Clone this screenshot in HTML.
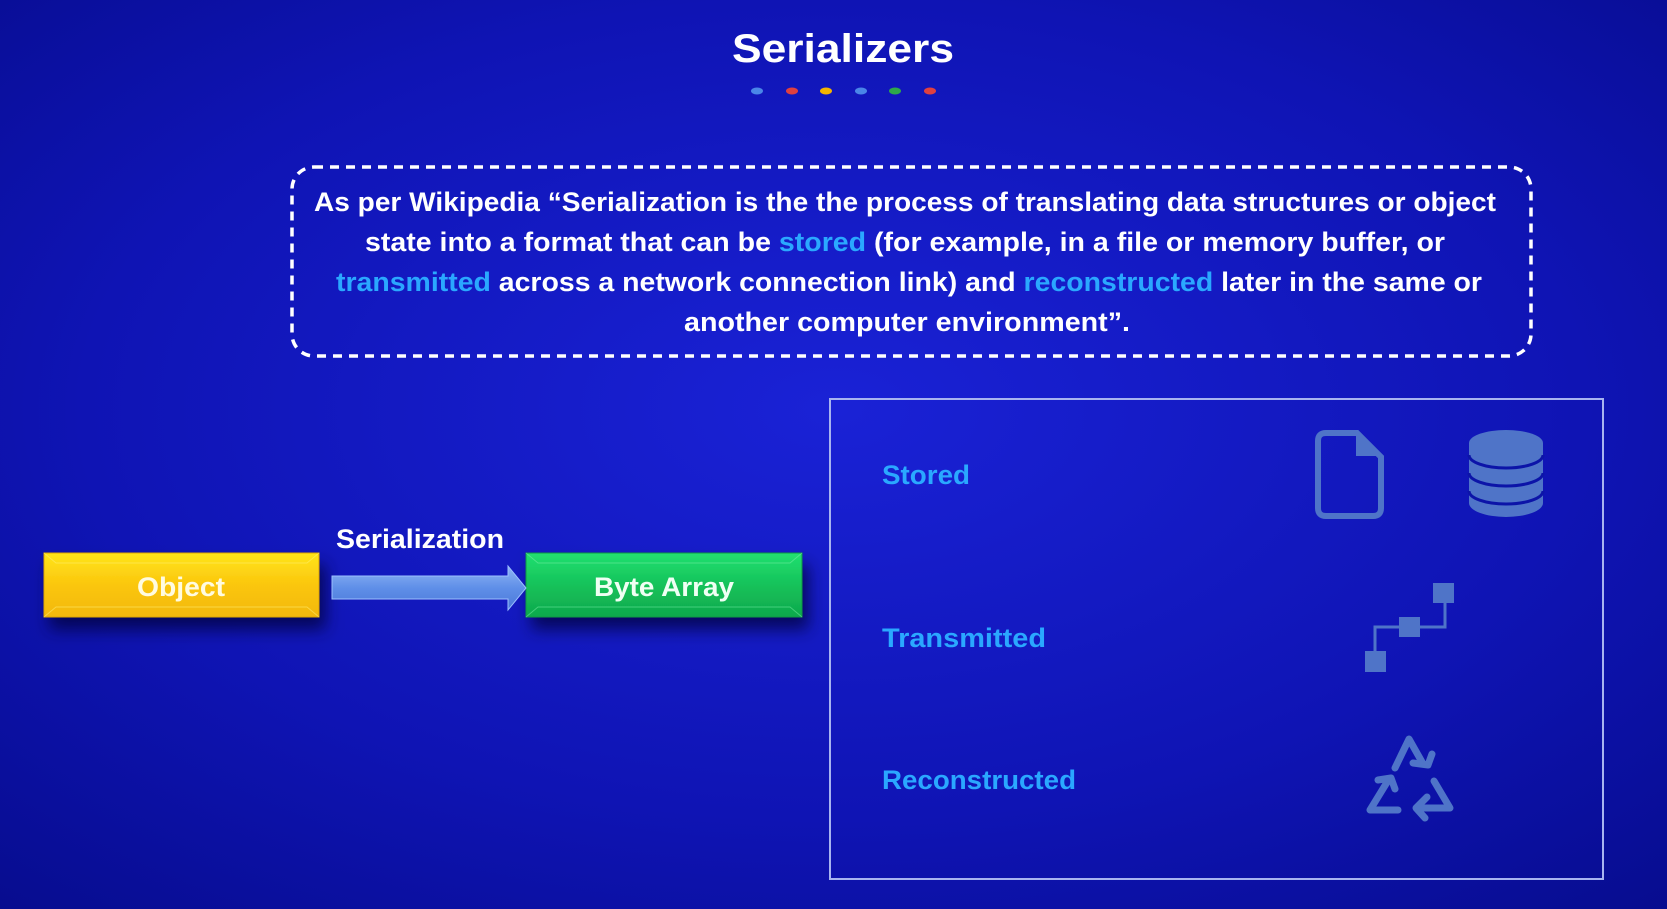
<!DOCTYPE html>
<html><head><meta charset="utf-8"><style>
html,body{margin:0;padding:0;width:1667px;height:909px;overflow:hidden;background:#0c10a8}
svg{display:block}
text{font-family:"Liberation Sans",sans-serif}
</style></head><body>
<svg width="1667" height="909" viewBox="0 0 1667 909" xmlns="http://www.w3.org/2000/svg">
<defs>
<radialGradient id="bg" cx="0.5" cy="0.45" r="0.75">
<stop offset="0" stop-color="#1a22d6"/><stop offset="0.6" stop-color="#0f14b4"/><stop offset="1" stop-color="#070c8e"/>
</radialGradient>
<linearGradient id="yel" x1="0" y1="0" x2="0" y2="1">
<stop offset="0" stop-color="#ffe51a"/><stop offset="0.5" stop-color="#fbc60e"/><stop offset="1" stop-color="#f2b80a"/>
</linearGradient>
<linearGradient id="grn" x1="0" y1="0" x2="0" y2="1">
<stop offset="0" stop-color="#22e070"/><stop offset="0.5" stop-color="#15c25a"/><stop offset="1" stop-color="#0fa84c"/>
</linearGradient>
<linearGradient id="arr" x1="0" y1="0" x2="0" y2="1">
<stop offset="0" stop-color="#8fb4f4"/><stop offset="0.5" stop-color="#5f8fe8"/><stop offset="1" stop-color="#4a78d8"/>
</linearGradient>
<filter id="sh" x="-20%" y="-30%" width="140%" height="190%"><feDropShadow dx="6" dy="12" stdDeviation="8" flood-color="#000030" flood-opacity="0.7"/></filter>
</defs>
<rect width="1667" height="909" fill="url(#bg)"/>
<text x="843" y="62" text-anchor="middle" font-size="40" font-weight="bold" fill="#fff" textLength="222" lengthAdjust="spacingAndGlyphs">Serializers</text>
<g>
<ellipse cx="757" cy="91" rx="6" ry="3.5" fill="#4a86e8"/>
<ellipse cx="792" cy="91" rx="6" ry="3.5" fill="#e04040"/>
<ellipse cx="826" cy="91" rx="6" ry="3.5" fill="#f4b400"/>
<ellipse cx="861" cy="91" rx="6" ry="3.5" fill="#4a86e8"/>
<ellipse cx="895" cy="91" rx="6" ry="3.5" fill="#2ea84a"/>
<ellipse cx="930" cy="91" rx="6" ry="3.5" fill="#e04040"/>
</g>
<rect x="292" y="167" width="1239" height="189" rx="22" fill="none" stroke="#fff" stroke-width="3.5" stroke-dasharray="9 7"/>
<g font-size="27" fill="#fff" font-weight="bold">
<text x="314" y="211" textLength="1182" lengthAdjust="spacingAndGlyphs">As per Wikipedia “Serialization is the the process of translating data structures or object</text>
<text x="365" y="251" textLength="1080" lengthAdjust="spacingAndGlyphs">state into a format that can be <tspan fill="#2aa8ff">stored</tspan> (for example, in a file or memory buffer, or</text>
<text x="336" y="291" textLength="1146" lengthAdjust="spacingAndGlyphs"><tspan fill="#2aa8ff">transmitted</tspan> across a network connection link) and <tspan fill="#2aa8ff">reconstructed</tspan> later in the same or</text>
<text x="684" y="331" textLength="446" lengthAdjust="spacingAndGlyphs">another computer environment”.</text>
</g>
<g filter="url(#sh)">
<rect x="44" y="553" width="275" height="64" fill="url(#yel)" stroke="#e0a800" stroke-width="1"/>
<rect x="526" y="553" width="276" height="64" fill="url(#grn)" stroke="#0c9a44" stroke-width="1"/>
</g>
<path d="M44 553 L56 563 L307 563 L319 553 M44 617 L56 607 L307 607 L319 617" fill="none" stroke="#fff27a" stroke-opacity="0.5" stroke-width="1"/>
<path d="M526 553 L538 563 L790 563 L802 553 M526 617 L538 607 L790 607 L802 617" fill="none" stroke="#7cf0a8" stroke-opacity="0.5" stroke-width="1"/>
<text x="181" y="596" text-anchor="middle" font-size="27" font-weight="bold" fill="#fffbe0" textLength="88" lengthAdjust="spacingAndGlyphs">Object</text>
<text x="664" y="596" text-anchor="middle" font-size="27" font-weight="bold" fill="#f0fff4" textLength="140" lengthAdjust="spacingAndGlyphs">Byte Array</text>
<path d="M332 576 L508 576 L508 566 L526 588 L508 610 L508 599 L332 599 Z" fill="url(#arr)" stroke="#9cc0ff" stroke-width="1"/>
<text x="336" y="548" font-size="27" font-weight="bold" fill="#fff" textLength="168" lengthAdjust="spacingAndGlyphs">Serialization</text>
<rect x="830" y="399" width="773" height="480" fill="none" stroke="#a8b4f0" stroke-width="2"/>
<g font-size="27" fill="#2aa8ff" font-weight="bold">
<text x="882" y="484" textLength="88" lengthAdjust="spacingAndGlyphs">Stored</text>
<text x="882" y="647" textLength="164" lengthAdjust="spacingAndGlyphs">Transmitted</text>
<text x="882" y="789" textLength="194" lengthAdjust="spacingAndGlyphs">Reconstructed</text>
</g>
<g fill="#4f74c8" stroke="#4f74c8">
<path d="M1330 433 L1357 433 L1381 457 L1381 508 Q1381 516 1373 516 L1326 516 Q1318 516 1318 508 L1318 441 Q1318 433 1326 433 Z" fill="none" stroke-width="6"/>
<path d="M1356 434 L1356 456 L1380 456 Z" stroke="none"/>
<path d="M1469 443 A37 13 0 0 1 1543 443 L1543 503 A37 14 0 0 1 1469 503 Z" stroke="none"/>
<g fill="none" stroke="#0c14a8" stroke-width="3">
<path d="M1469 455 A37 13 0 0 0 1543 455"/>
<path d="M1469 473 A37 13 0 0 0 1543 473"/>
<path d="M1469 491 A37 13 0 0 0 1543 491"/>
</g>
<rect x="1433" y="583" width="21" height="20" stroke="none"/>
<rect x="1399" y="617" width="21" height="20" stroke="none"/>
<rect x="1365" y="651" width="21" height="21" stroke="none"/>
<path d="M1375 651 L1375 627 L1445 627 L1445 603" fill="none" stroke-width="3"/>
<g fill="none" stroke-width="7" stroke-linecap="round" stroke-linejoin="round">
<path d="M1395 768 L1409 739 L1422 762"/>
<path d="M1413 763 L1428 765 L1432 754"/>
<path d="M1389 779 L1370 810 L1398 810"/>
<path d="M1378 780 L1391 778 L1395 789"/>
<path d="M1434 781 L1450 808 L1423 808"/>
<path d="M1427 797 L1416 808 L1425 818"/>
</g>
</g>
</svg>
</body></html>
